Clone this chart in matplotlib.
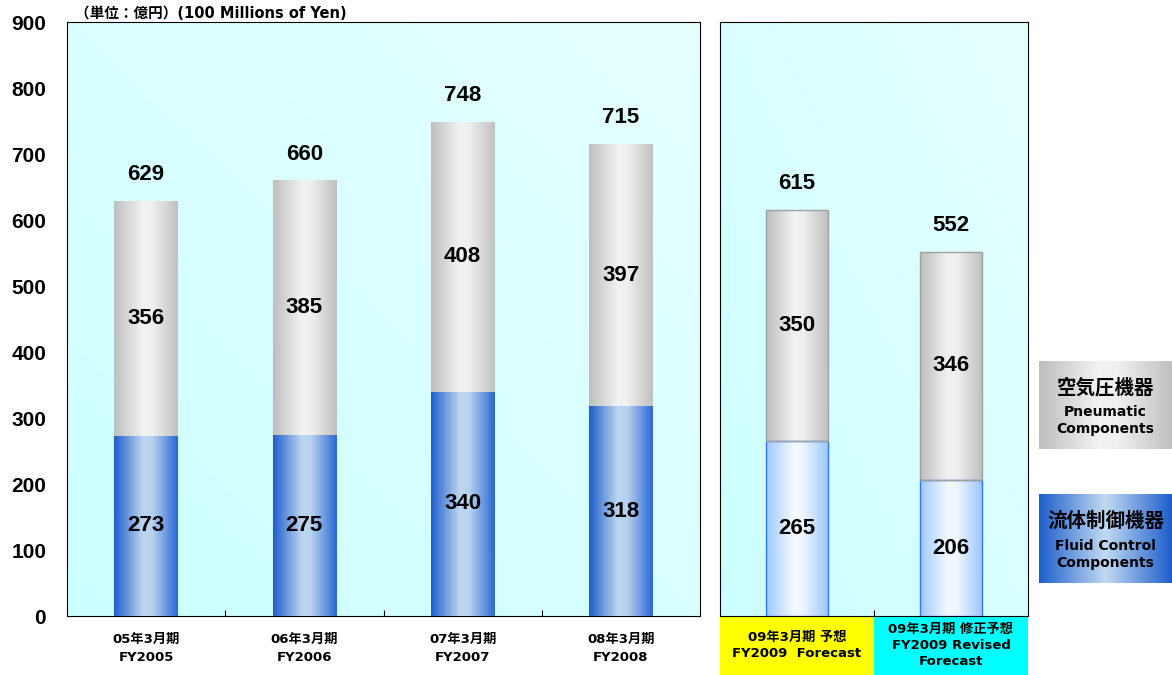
import numpy as np
import matplotlib.pyplot as plt
from matplotlib.colors import LinearSegmentedColormap
from matplotlib.patches import Rectangle

plt.rcParams['font.family'] = ['Liberation Sans', 'Noto Sans CJK JP', 'DejaVu Sans']
plt.rcParams['font.weight'] = 'bold'
WIDE = ['DejaVu Sans', 'Noto Sans CJK JP']

# actual years
cats_act = ['05年3月期\nFY2005', '06年3月期\nFY2006', '07年3月期\nFY2007', '08年3月期\nFY2008']
fluid_act = [273, 275, 340, 318]
pneu_act = [356, 385, 408, 397]
total_act = [629, 660, 748, 715]

# forecasts
cats_fc = ['09年3月期 予想\nFY2009  Forecast', '09年3月期 修正予想\nFY2009 Revised\nForecast']
fluid_fc = [265, 206]
pneu_fc = [350, 346]
total_fc = [615, 552]
fc_box_colors = ['#FFFF00', '#00FFFF']

W, H = 1172, 675
fig = plt.figure(figsize=(W / 100, H / 100), dpi=100)

def px_axes(x0, y0, x1, y1):
    return fig.add_axes([x0 / W, 1 - y1 / H, (x1 - x0) / W, (y1 - y0) / H])

blue_dark = LinearSegmentedColormap.from_list('bd', [(0, '#1E5ECC'), (0.45, '#BDD6F0'), (0.6, '#B8D2EE'), (1, '#2A68D6')])
blue_light = LinearSegmentedColormap.from_list('bl', [(0, '#9CC8FF'), (0.45, '#F6FAFF'), (0.6, '#EEF5FF'), (1, '#9CC8FF')])
gray = LinearSegmentedColormap.from_list('gr', [(0, '#BEBEBE'), (0.45, '#F2F2F2'), (0.6, '#EFEFEF'), (1, '#C0C0C0')])
bg_cmap = LinearSegmentedColormap.from_list('bg', ['#CCFFFF', '#E6FFFF'])

hgrad = np.linspace(0, 1, 256).reshape(1, -1)

def fill_gradient(ax, patches, cmap):
    for p in patches:
        x0, y0 = p.get_x(), p.get_y()
        im = ax.imshow(hgrad, extent=[x0, x0 + p.get_width(), y0, y0 + p.get_height()],
                       aspect='auto', cmap=cmap, zorder=p.get_zorder() - 0.1, interpolation='bicubic')
        im.set_clip_path(p)

def draw_panel(ax, fluid, pneu, total, blue_cmap, blue_edge, gray_edge, lw):
    n = len(fluid)
    x = np.arange(n)
    yy, xx = np.mgrid[0:1:100j, 0:1:100j]
    ax.imshow((xx + (1 - yy)) / 2, extent=[-0.5, n - 0.5, 0, 900], aspect='auto',
              cmap=bg_cmap, zorder=0, interpolation='bicubic')
    b1 = ax.bar(x, fluid, width=0.4, facecolor='none', edgecolor=blue_edge, linewidth=lw, zorder=3)
    b2 = ax.bar(x, pneu, bottom=fluid, width=0.4, facecolor='none', edgecolor=gray_edge, linewidth=lw, zorder=3)
    fill_gradient(ax, b1, blue_cmap)
    fill_gradient(ax, b2, gray)
    for i in range(n):
        ax.text(x[i], fluid[i] / 2, str(fluid[i]), ha='center', va='center', fontsize=16, zorder=5)
        ax.text(x[i], fluid[i] + pneu[i] / 2, str(pneu[i]), ha='center', va='center', fontsize=16, zorder=5)
        ax.text(x[i], total[i] + 40, str(total[i]), ha='center', va='center', fontsize=16, zorder=5)
    ax.set_xlim(-0.5, n - 0.5)
    ax.set_ylim(0, 900)
    ax.set_xticks([])
    ax.set_xticks(np.arange(n - 1) + 0.5, minor=True)
    ax.tick_params(axis='x', which='minor', direction='in', length=4, width=0.8)
    for s in ax.spines.values():
        s.set_linewidth(0.8)

ax1 = px_axes(67, 22, 700, 616)
draw_panel(ax1, fluid_act, pneu_act, total_act, blue_dark, 'none', 'none', 0)
ax1.set_yticks(range(0, 901, 100))
ax1.tick_params(axis='y', length=0, pad=15, labelsize=15)
for i, c in enumerate(cats_act):
    ax1.text(i, -0.055, c, transform=ax1.get_xaxis_transform(), ha='center', va='center',
             fontsize=9.5, linespacing=1.5, family=WIDE)

ax2 = px_axes(720, 22, 1028, 616)
draw_panel(ax2, fluid_fc, pneu_fc, total_fc, blue_light, '#3377FF', '#A0A0A0', 1.0)
ax2.set_yticks([])
for i, c in enumerate(cats_fc):
    ax2.add_patch(Rectangle((i - 0.5, -0.1), 1, 0.098, transform=ax2.get_xaxis_transform(),
                            facecolor=fc_box_colors[i], edgecolor='none', clip_on=False, zorder=1))
    ax2.text(i, -0.05, c, transform=ax2.get_xaxis_transform(), ha='center', va='center',
             fontsize=9.5, linespacing=1.3, zorder=2, family=WIDE)

fig.text(75 / W, 1 - 14 / H, '（単位：億円）(100 Millions of Yen)', ha='left', va='center',
         fontsize=10.5, family=WIDE)

# legend boxes
leg_items = [
    (361, 449, gray, '空気圧機器', 'Pneumatic\nComponents'),
    (494, 583, LinearSegmentedColormap.from_list('lb', [(0, '#1E5ECC'), (0.5, '#C2DAF2'), (1, '#1E5ECC')]),
     '流体制御機器', 'Fluid Control\nComponents'),
]
for y0, y1, cmap, jp, en in leg_items:
    lax = px_axes(1039, y0, 1172, y1)
    lax.imshow(hgrad, extent=[0, 1, 0, 1], aspect='auto', cmap=cmap, interpolation='bicubic')
    lax.set_xlim(0, 1)
    lax.set_ylim(0, 1)
    lax.axis('off')
    lax.text(0.5, 0.7, jp, ha='center', va='center', fontsize=14)
    lax.text(0.5, 0.32, en, ha='center', va='center', fontsize=10, linespacing=1.3, family=WIDE)

fig.savefig('out.png', dpi=100)
